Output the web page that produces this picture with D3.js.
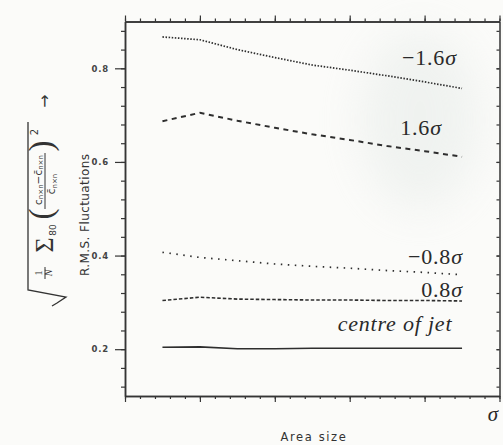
<!DOCTYPE html>
<html lang="en">
<head>
<meta charset="utf-8">
<title>rms fluctuations</title>
<script src="https://cdn.jsdelivr.net/npm/d3@7"></script>
<style>
  body{margin:0;background:#fbfbf9;}
  svg{display:block;}
</style>
</head>
<body>
<div id="chart1"></div>
<script>
// values
var areaSize = [0.5, 1, 1.5, 2, 2.5, 3, 3.5, 4, 4.5]
var minus16 = [0.867, 0.861, 0.840, 0.823, 0.807, 0.796, 0.784, 0.771, 0.757]
var plus16  = [0.687, 0.705, 0.688, 0.673, 0.659, 0.647, 0.634, 0.623, 0.611]
var minus08 = [0.407, 0.396, 0.389, 0.382, 0.377, 0.373, 0.368, 0.364, 0.359]
var plus08  = [0.304, 0.311, 0.307, 0.306, 0.305, 0.305, 0.304, 0.304, 0.303]
var centre  = [0.204, 0.205, 0.201, 0.201, 0.202, 0.202, 0.202, 0.202, 0.202]

var yTicks = [0.2, 0.4, 0.6, 0.8]
var yTickLabels = ["0.2", "0.4", "0.6", "0.8"]
var xTicks = [0, 1, 2, 3, 4, 5]

var w = 503, h = 445
var x = d3.scaleLinear().domain([0, 5]).range([125, 499.5])
var y = d3.scaleLinear().domain([0.1, 0.9]).range([396, 21.5])
var xMinor = d3.range(0, 5.001, 0.2)
var yMinor = d3.range(0.12, 0.9, 0.04)
var ink = "#353535"

var svg = d3.select("#chart1").append("svg").attr("width", w).attr("height", h)

// faint scan blotch
var defs = svg.append("defs")
defs.append("filter").attr("id", "blur")
    .attr("x", "-100%").attr("y", "-100%").attr("width", "300%").attr("height", "300%")
    .append("feGaussianBlur").attr("stdDeviation", 22)
svg.append("ellipse").attr("cx", 420).attr("cy", 120).attr("rx", 60).attr("ry", 90)
    .attr("fill", "#e2e8e5").attr("opacity", 0.45).attr("filter", "url(#blur)")

function axisStyle(g, width){
    g.selectAll("line").attr("stroke", ink).attr("stroke-width", 1.2)
    g.selectAll("path").attr("stroke", ink).attr("stroke-width", width)
}

// frame with ticks on all four sides
svg.append("g").attr("transform", "translate(0,396)")
    .call(d3.axisBottom(x).tickValues(xMinor).tickSize(3).tickSizeOuter(0).tickFormat(""))
    .call(axisStyle, 1.5)
svg.append("g").attr("transform", "translate(0,396)")
    .call(d3.axisBottom(x).tickValues(xTicks).tickSize(6).tickSizeOuter(0).tickFormat(""))
    .call(axisStyle, 1.5)
svg.append("g").attr("transform", "translate(0,21.5)")
    .call(d3.axisTop(x).tickValues(xMinor).tickSize(3).tickSizeOuter(0).tickFormat(""))
    .call(axisStyle, 1.5)
svg.append("g").attr("transform", "translate(0,21.5)")
    .call(d3.axisTop(x).tickValues(xTicks).tickSize(6).tickSizeOuter(0).tickFormat(""))
    .call(axisStyle, 1.5)
svg.append("g").attr("transform", "translate(125,0)")
    .call(d3.axisLeft(y).tickValues(yMinor).tickSize(4).tickSizeOuter(0).tickFormat(""))
    .call(axisStyle, 1.5)
var left = svg.append("g").attr("transform", "translate(125,0)")
    .call(d3.axisLeft(y).tickValues(yTicks).tickSize(10).tickSizeOuter(0).tickPadding(6)
        .tickFormat(function(d, i){ return yTickLabels[i] }))
    .call(axisStyle, 1.5)
left.selectAll("text").attr("font-family", "DejaVu Sans").attr("font-size", 8.5)
    .attr("font-weight", "bold").attr("fill", "#444").attr("letter-spacing", 0.8)
svg.append("g").attr("transform", "translate(499.5,0)")
    .call(d3.axisRight(y).tickValues(yMinor.concat(yTicks)).tickSize(-3).tickSizeOuter(0).tickFormat(""))
    .call(axisStyle, 1.5)

// curves
var series = [
    {values: minus16, dash: "1.5,1.6", width: 1.7},
    {values: plus16, dash: "5,4.5", width: 2},
    {values: minus08, dash: "1.5,5.5", width: 1.7},
    {values: plus08, dash: "3.5,2", width: 1.6},
    {values: centre, dash: null, width: 1.6}
]
var line = d3.line()
    .x(function(d, i){ return x(areaSize[i]) })
    .y(function(d){ return y(d) })
svg.selectAll(".curve").data(series).enter().append("path")
    .attr("class", "curve")
    .attr("d", function(d){ return line(d.values) })
    .attr("fill", "none")
    .attr("stroke", "#2e2e2e")
    .attr("stroke-width", function(d){ return d.width })
    .attr("stroke-dasharray", function(d){ return d.dash })

// curve labels (anchored at their right end)
var labels = [
    {num: "\u22121.6", sym: "\u03c3", x: 4.43, y: 0.807, italic: false},
    {num: "1.6", sym: "\u03c3", x: 4.23, y: 0.658, italic: false},
    {num: "\u22120.8", sym: "\u03c3", x: 4.51, y: 0.382, italic: false},
    {num: "0.8", sym: "\u03c3", x: 4.51, y: 0.311, italic: false},
    {num: "centre of jet", sym: "", x: 4.37, y: 0.239, italic: true}
]
var lab = svg.selectAll(".lab").data(labels).enter().append("text")
    .attr("class", "lab")
    .attr("x", function(d){ return x(d.x) })
    .attr("y", function(d){ return y(d.y) })
    .attr("text-anchor", "end")
    .attr("font-family", "Liberation Serif")
    .attr("font-size", 22)
    .attr("letter-spacing", 0.8)
    .attr("fill", "#2a2a2a")
lab.append("tspan").attr("font-style", function(d){ return d.italic ? "italic" : "normal" })
    .text(function(d){ return d.num })
lab.append("tspan").attr("font-style", "italic").text(function(d){ return d.sym })

// axis titles
svg.append("text").attr("x", 493).attr("y", 421).attr("text-anchor", "middle")
    .attr("font-family", "Liberation Serif").attr("font-style", "italic")
    .attr("font-size", 21).attr("fill", "#2a2a2a").text("\u03c3")
svg.append("text").attr("x", 314).attr("y", 441).attr("text-anchor", "middle")
    .attr("font-family", "DejaVu Sans").attr("font-size", 11.5).attr("letter-spacing", 1.6)
    .attr("fill", "#333").text("Area size")

// rotated y title: local (a,b) -> screen (b,-a)
var rot = svg.append("g").attr("transform", "rotate(-90)").attr("fill", "#333")
rot.append("text").attr("x", -215).attr("y", 89).attr("text-anchor", "middle")
    .attr("font-family", "DejaVu Sans").attr("font-size", 12)
    .attr("textLength", 122).attr("lengthAdjust", "spacing")
    .text("R.M.S. Fluctuations")

function rt(txt, cy, base, size, fam){
    return rot.append("text").attr("x", -cy).attr("y", base).attr("text-anchor", "middle")
        .attr("font-family", fam || "Liberation Serif").attr("font-size", size).text(txt)
}
// 1/N
rt("1", 273, 41.5, 10)
rt("N", 273, 52, 10).attr("font-style", "italic")
// sum with subscript 80
rt("\u03a3", 245, 52.5, 26)
rt("80", 230, 56, 9, "DejaVu Sans")
// big parentheses
rt("(", 214, 52, 33)
rt(")", 146, 52, 33)
rt("2", 132, 38, 10, "DejaVu Sans")
// fraction (c_nxn - cbar_nxn) / cbar_nxn
var num = rt("", 180, 41.5, 10.5, "DejaVu Sans")
num.append("tspan").text("c")
num.append("tspan").attr("font-size", 7).attr("dy", 1.5).text("n\u00d7n")
num.append("tspan").attr("dy", -1.5).text("\u2212c\u0304")
num.append("tspan").attr("font-size", 7).attr("dy", 1.5).text("n\u00d7n")
var den = rt("", 184, 55, 10.5, "DejaVu Sans")
den.append("tspan").text("c\u0304")
den.append("tspan").attr("font-size", 7).attr("dy", 1.5).text("n\u00d7n")
// arrow
rt("\u2192", 101, 50, 16, "DejaVu Sans")

// radical and fraction bars, drawn in screen space
svg.append("path").attr("d", "M52,306 L57,303 L66,297 L28,290 L28,122")
    .attr("fill", "none").attr("stroke", "#333").attr("stroke-width", 1.3)
svg.append("path").attr("d", "M45,209 L45,153 M45,279 L45,267")
    .attr("fill", "none").attr("stroke", "#333").attr("stroke-width", 1)
</script>
</body>
</html>
